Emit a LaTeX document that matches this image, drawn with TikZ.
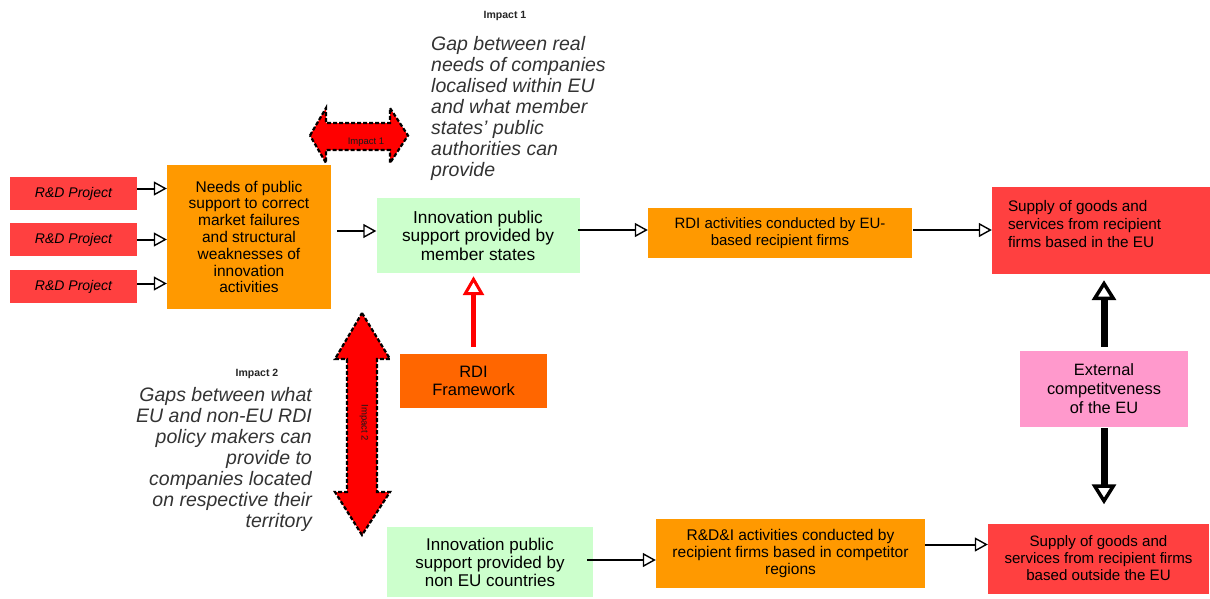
\documentclass[tikz,border=0pt]{standalone}
\usepackage{fontspec}
\setmainfont{Liberation Sans}
\usetikzlibrary{arrows.meta}
\definecolor{boxred}{HTML}{FF4040}
\definecolor{boxorange}{HTML}{FF9900}
\definecolor{fworange}{HTML}{FF6600}
\definecolor{boxgreen}{HTML}{CCFFCC}
\definecolor{boxpink}{HTML}{FF99CC}
\definecolor{arrred}{HTML}{FF0000}
\tikzset{
  fsz/.style 2 args={font=\fontsize{#1}{#2}\selectfont},
  box/.style={rectangle, inner sep=0pt, align=center, text=black, fsz={15}{17.5}},
  rdbox/.style={box, fill=boxred, minimum width=127pt, minimum height=33pt,
    font=\fontsize{14}{16}\selectfont\itshape},
  orangebox/.style={box, fill=boxorange},
  greenbox/.style={box, fill=boxgreen},
  redbox/.style={box, fill=boxred},
  flow/.style={line width=2pt, -{Triangle[open, length=13pt, width=14pt, line width=1.4pt]}},
  redflow/.style={draw=arrred, line width=5pt, -{Triangle[open, length=19pt, width=21pt, line width=3pt]}},
  extflow/.style={draw=black, line width=7pt, -{Triangle[open, length=20pt, width=24pt, line width=3.5pt]}},
  impactarrow/.style={fill=arrred, draw=black, line width=2.2pt, dash pattern=on 4pt off 2pt, line join=miter},
  smalllabel/.style={inner sep=0pt, font=\fontsize{9.5}{11}\selectfont, text=black!90},
  impacttitle/.style={inner sep=0pt, font=\fontsize{10.5}{12}\selectfont\bfseries, text=black!85},
  gaptext/.style={inner sep=0pt, font=\fontsize{19.5}{21}\selectfont\itshape, text=black!80}
}
\begin{document}
\begin{tikzpicture}[x=1pt, y=-1pt]
\useasboundingbox (0,0) rectangle (1210,598);
\fill[white] (0,0) rectangle (1210,598);

% boxes
\node[rdbox] (rd1) at (73.5,193.5) {R\&D Project};
\node[rdbox] (rd2) at (73.5,239.5) {R\&D Project};
\node[rdbox] (rd3) at (73.5,286.5) {R\&D Project};
\node[orangebox, fsz={15.5}{16.8}, minimum width=164pt, minimum height=144pt] (needs) at (249,237)
  {Needs of public\\support to correct\\market failures\\and structural\\weaknesses of\\innovation\\activities};
\node[greenbox, fsz={17.3}{18.5}, minimum width=203pt, minimum height=75pt] (innov) at (478,235.5)
  {Innovation public\\support provided by\\member states};
\node[orangebox, fsz={15}{17.5}, minimum width=264pt, minimum height=50pt] (rdi) at (780,233)
  {RDI activities conducted by EU-\\based recipient firms};
\node[redbox, minimum width=218pt, minimum height=87pt] (supEU) at (1101,230.5) {};
\node[box, fsz={15.3}{18}, align=left, anchor=west] (supEUtxt) at ([xshift=16pt, yshift=6pt]supEU.west)
  {Supply of goods and\\services from recipient\\firms based in the EU};
\node[box, fill=boxpink, fsz={16.4}{19}, minimum width=168pt, minimum height=76pt] (pink) at (1104,389)
  {External\\competitveness\\of the EU};
\node[box, fill=fworange, fsz={16.5}{18}, minimum width=147pt, minimum height=54pt] (fw) at (473.5,381)
  {RDI\\Framework};
\node[greenbox, fsz={17}{18}, minimum width=206pt, minimum height=70pt] (innovN) at (490,562)
  {Innovation public\\support provided by\\non EU countries};
\node[orangebox, fsz={15.5}{17}, minimum width=269pt, minimum height=69pt] (rdiN) at (790.5,553.5)
  {R\&D\&I activities conducted by\\recipient firms based in competitor\\regions};
\node[redbox, fsz={15.1}{17}, minimum width=221pt, minimum height=70pt] (supN) at (1098.5,558.5)
  {Supply of goods and\\services from recipient firms\\based outside the EU};

% flow connectors
\draw[flow] ([yshift=5pt]rd1.east) -- ([yshift=5pt]rd1.east -| needs.west);
\draw[flow] (rd2.east) -- (rd2.east -| needs.west);
\draw[flow] ([yshift=3pt]rd3.east) -- ([yshift=3pt]rd3.east -| needs.west);
\draw[flow, shorten <=6pt] ([yshift=6pt]needs.east) -- ([yshift=6pt]needs.east -| innov.west);
\draw[flow, shorten <=-2pt] ([yshift=3pt]rdi.west -| innov.east) -- ([yshift=3pt]rdi.west);
\draw[flow, shorten <=1pt] ([yshift=3pt]rdi.east) -- ([yshift=3pt]rdi.east -| supEU.west);
\draw[flow, shorten <=-6pt] ([yshift=2pt]innovN.east) -- ([yshift=2pt]innovN.east -| rdiN.west);
\draw[flow] ([yshift=9pt]rdiN.east) -- ([yshift=9pt]rdiN.east -| supN.west);

% red framework arrow
\draw[redflow, shorten <=7pt, shorten >=3pt] (fw.north) -- (fw.north |- innov.south);

% external competitiveness arrows
\draw[extflow, shorten <=4pt, shorten >=6pt] (pink.north) -- (pink.north |- supEU.south);
\draw[extflow, shorten <=1pt, shorten >=19pt] (pink.south) -- (pink.south |- supN.north);

% impact 1 double arrow
\draw[impactarrow] (310,135.5) -- (326,108) -- (326,123) -- (390,123) -- (390,108)
  -- (408,135.5) -- (390,163) -- (390,150) -- (326,150) -- (326,163) -- cycle;
\node[smalllabel] (imp1lbl) at (366,142) {Impact 1};

% impact 2 double arrow
\draw[impactarrow] (362,313) -- (390,359) -- (377,359) -- (377,492) -- (390,492)
  -- (362,535) -- (335,492) -- (347,492) -- (347,359) -- (335,359) -- cycle;
\node[smalllabel, rotate=-90] (imp2lbl) at (364,423) {Impact 2};

% texts
\node[impacttitle] (imp1title) at (505,16) {Impact 1};
\node[gaptext, align=left, anchor=north west] (gap1) at (431,35.8)
  {Gap between real\\needs of companies\\localised within EU\\and what member\\states’ public\\authorities can\\provide};
\node[impacttitle] (imp2title) at (257,374) {Impact 2};
\node[gaptext, align=right, anchor=north east] (gap2) at (312,386.8)
  {Gaps between what\\EU and non-EU RDI\\policy makers can\\provide to\\companies located\\on respective their\\territory};
\end{tikzpicture}
\end{document}
